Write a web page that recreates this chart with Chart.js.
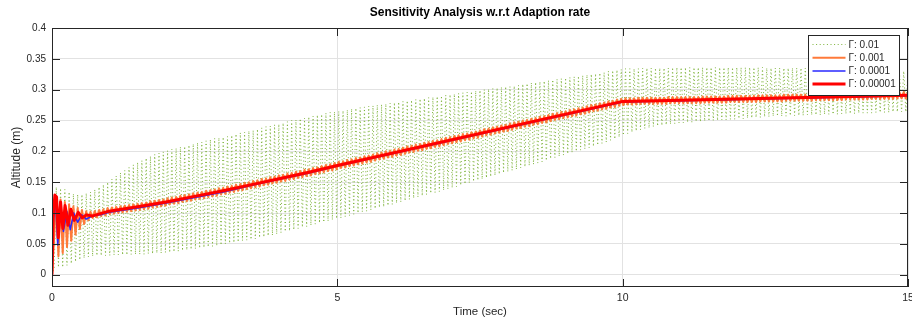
<!DOCTYPE html>
<html><head><meta charset="utf-8">
<script src="https://cdn.jsdelivr.net/npm/chart.js@4.4.1/dist/chart.umd.min.js"></script>
<style>html,body{margin:0;padding:0;background:#fff;overflow:hidden}#wrap{width:912px;height:320px;position:relative}</style>
</head><body><div id="wrap"><canvas id="c" width="912" height="320"></canvas></div>
<script>
const titleText = 'Sensitivity Analysis w.r.t Adaption rate';
const xTitle = 'Time (sec)';
const yTitle = 'Altitude (m)';
const xTicks = [0, 5, 10, 15];
const yTicks = [0, 0.05, 0.1, 0.15, 0.2, 0.25, 0.3, 0.35, 0.4];
const seriesLabels = ['\u0393: 0.01', '\u0393: 0.001', '\u0393: 0.0001', '\u0393: 0.00001'];

// Oscillating responses: the crest and trough values,
// one crest and one trough per sample interval (sampleStep seconds).
const sampleStep = 0.075;
const gamma_0_01_crest = [
0, 0.142, 0.140, 0.138, 0.134, 0.131, 0.130, 0.130, 0.132, 0.134,
0.138, 0.142, 0.146, 0.150, 0.155, 0.160, 0.165, 0.169, 0.174, 0.178,
0.182, 0.185, 0.189, 0.192, 0.195, 0.197, 0.199, 0.201, 0.203, 0.205,
0.207, 0.208, 0.210, 0.212, 0.214, 0.215, 0.217, 0.219, 0.221, 0.222,
0.223, 0.224, 0.226, 0.228, 0.230, 0.231, 0.233, 0.234, 0.236, 0.238,
0.240, 0.241, 0.243, 0.244, 0.246, 0.248, 0.250, 0.251, 0.253, 0.254,
0.256, 0.257, 0.259, 0.260, 0.262, 0.263, 0.264, 0.265, 0.266, 0.267,
0.269, 0.270, 0.271, 0.272, 0.273, 0.274, 0.275, 0.276, 0.277, 0.278,
0.279, 0.280, 0.281, 0.282, 0.283, 0.284, 0.285, 0.286, 0.287, 0.288,
0.289, 0.290, 0.291, 0.292, 0.293, 0.294, 0.295, 0.296, 0.297, 0.298,
0.299, 0.300, 0.301, 0.302, 0.303, 0.304, 0.305, 0.305, 0.306, 0.307,
0.309, 0.310, 0.311, 0.312, 0.313, 0.314, 0.315, 0.316, 0.317, 0.318,
0.319, 0.320, 0.321, 0.322, 0.323, 0.324, 0.325, 0.326, 0.327, 0.328,
0.330, 0.331, 0.332, 0.333, 0.334, 0.334, 0.334, 0.334, 0.335, 0.335,
0.335, 0.335, 0.335, 0.335, 0.335, 0.336, 0.336, 0.336, 0.336, 0.336,
0.336, 0.336, 0.336, 0.336, 0.336, 0.336, 0.336, 0.336, 0.336, 0.336,
0.336, 0.336, 0.336, 0.336, 0.336, 0.336, 0.336, 0.335, 0.335, 0.335,
0.335, 0.335, 0.335, 0.335, 0.335, 0.335, 0.335, 0.334, 0.334, 0.334,
0.334, 0.334, 0.334, 0.334, 0.334, 0.333, 0.333, 0.333, 0.333, 0.333,
0.332, 0.332, 0.332, 0.332, 0.331, 0.331, 0.331, 0.331, 0.330, 0.330,
0.330];
const gamma_0_01_trough = [
0.010, 0.012, 0.012, 0.015, 0.018, 0.021, 0.024, 0.027, 0.029, 0.030,
0.031, 0.031, 0.031, 0.031, 0.032, 0.032, 0.032, 0.032, 0.033, 0.033,
0.033, 0.033, 0.034, 0.034, 0.035, 0.035, 0.036, 0.036, 0.037, 0.038,
0.039, 0.040, 0.041, 0.042, 0.043, 0.044, 0.045, 0.046, 0.047, 0.048,
0.050, 0.051, 0.052, 0.053, 0.055, 0.056, 0.057, 0.058, 0.060, 0.061,
0.063, 0.064, 0.066, 0.068, 0.070, 0.071, 0.073, 0.075, 0.077, 0.078,
0.080, 0.082, 0.084, 0.085, 0.087, 0.089, 0.091, 0.092, 0.094, 0.096,
0.098, 0.100, 0.102, 0.103, 0.105, 0.107, 0.109, 0.110, 0.112, 0.114,
0.116, 0.118, 0.120, 0.122, 0.124, 0.126, 0.128, 0.130, 0.132, 0.133,
0.135, 0.137, 0.139, 0.141, 0.143, 0.145, 0.147, 0.149, 0.151, 0.153,
0.155, 0.157, 0.159, 0.161, 0.163, 0.165, 0.167, 0.169, 0.171, 0.173,
0.175, 0.177, 0.179, 0.181, 0.183, 0.185, 0.188, 0.190, 0.192, 0.194,
0.196, 0.198, 0.200, 0.202, 0.204, 0.206, 0.208, 0.210, 0.213, 0.215,
0.218, 0.220, 0.223, 0.226, 0.229, 0.231, 0.233, 0.235, 0.237, 0.238,
0.240, 0.241, 0.242, 0.243, 0.244, 0.245, 0.246, 0.246, 0.247, 0.247,
0.248, 0.248, 0.249, 0.249, 0.250, 0.250, 0.251, 0.251, 0.252, 0.252,
0.253, 0.253, 0.254, 0.254, 0.255, 0.255, 0.256, 0.256, 0.257, 0.257,
0.257, 0.257, 0.258, 0.258, 0.258, 0.258, 0.259, 0.259, 0.259, 0.259,
0.260, 0.260, 0.260, 0.260, 0.261, 0.261, 0.261, 0.261, 0.262, 0.262,
0.262, 0.262, 0.263, 0.263, 0.263, 0.263, 0.264, 0.264, 0.264, 0.264,
0.265];

const gamma_0_001_crest = [
0, 0.127, 0.122, 0.118, 0.114, 0.111, 0.108, 0.105, 0.103, 0.102,
0.103, 0.105, 0.106, 0.108, 0.109, 0.110, 0.111, 0.112, 0.113, 0.114,
0.115, 0.116, 0.117, 0.119, 0.120, 0.121, 0.122, 0.124, 0.125, 0.126,
0.128, 0.129, 0.130, 0.132, 0.133, 0.134, 0.136, 0.137, 0.138, 0.140,
0.141, 0.143, 0.144, 0.146, 0.147, 0.149, 0.150, 0.152, 0.153, 0.155,
0.156, 0.158, 0.159, 0.161, 0.162, 0.164, 0.165, 0.167, 0.168, 0.170,
0.171, 0.173, 0.174, 0.176, 0.178, 0.179, 0.181, 0.183, 0.184, 0.186,
0.187, 0.189, 0.190, 0.192, 0.193, 0.195, 0.197, 0.198, 0.200, 0.201,
0.203, 0.204, 0.206, 0.208, 0.209, 0.211, 0.212, 0.214, 0.215, 0.217,
0.218, 0.220, 0.222, 0.223, 0.225, 0.226, 0.228, 0.229, 0.231, 0.232,
0.234, 0.236, 0.237, 0.239, 0.240, 0.242, 0.243, 0.245, 0.247, 0.248,
0.250, 0.251, 0.253, 0.254, 0.256, 0.257, 0.259, 0.261, 0.262, 0.264,
0.265, 0.267, 0.268, 0.270, 0.271, 0.273, 0.275, 0.276, 0.278, 0.279,
0.281, 0.282, 0.284, 0.285, 0.286, 0.286, 0.286, 0.287, 0.287, 0.287,
0.287, 0.287, 0.287, 0.287, 0.288, 0.288, 0.288, 0.288, 0.288, 0.288,
0.288, 0.288, 0.289, 0.289, 0.289, 0.289, 0.289, 0.289, 0.290, 0.290,
0.290, 0.290, 0.290, 0.290, 0.290, 0.291, 0.291, 0.291, 0.291, 0.291,
0.291, 0.292, 0.292, 0.292, 0.292, 0.292, 0.292, 0.292, 0.293, 0.293,
0.293, 0.293, 0.293, 0.293, 0.293, 0.294, 0.294, 0.294, 0.294, 0.294,
0.294, 0.295, 0.295, 0.295, 0.295, 0.295, 0.295, 0.296, 0.296, 0.296,
0.296];
const gamma_0_001_trough = [
0.060, 0.030, 0.035, 0.045, 0.055, 0.065, 0.074, 0.082, 0.088, 0.092,
0.093, 0.095, 0.096, 0.098, 0.099, 0.100, 0.101, 0.102, 0.103, 0.104,
0.105, 0.106, 0.107, 0.109, 0.110, 0.111, 0.112, 0.114, 0.115, 0.116,
0.118, 0.119, 0.120, 0.122, 0.123, 0.124, 0.126, 0.127, 0.128, 0.130,
0.131, 0.133, 0.134, 0.136, 0.137, 0.139, 0.140, 0.142, 0.143, 0.145,
0.146, 0.148, 0.149, 0.151, 0.152, 0.154, 0.155, 0.157, 0.158, 0.160,
0.161, 0.163, 0.164, 0.166, 0.168, 0.169, 0.171, 0.173, 0.174, 0.176,
0.177, 0.179, 0.180, 0.182, 0.183, 0.185, 0.187, 0.188, 0.190, 0.191,
0.193, 0.194, 0.196, 0.198, 0.199, 0.201, 0.202, 0.204, 0.205, 0.207,
0.208, 0.210, 0.212, 0.213, 0.215, 0.216, 0.218, 0.219, 0.221, 0.222,
0.224, 0.226, 0.227, 0.229, 0.230, 0.232, 0.233, 0.235, 0.237, 0.238,
0.240, 0.241, 0.243, 0.244, 0.246, 0.247, 0.249, 0.251, 0.252, 0.254,
0.255, 0.257, 0.258, 0.260, 0.261, 0.263, 0.265, 0.266, 0.268, 0.269,
0.271, 0.272, 0.274, 0.275, 0.276, 0.276, 0.276, 0.277, 0.277, 0.277,
0.277, 0.277, 0.277, 0.277, 0.278, 0.278, 0.278, 0.278, 0.278, 0.278,
0.278, 0.278, 0.279, 0.279, 0.279, 0.279, 0.279, 0.279, 0.280, 0.280,
0.280, 0.280, 0.280, 0.280, 0.280, 0.281, 0.281, 0.281, 0.281, 0.281,
0.281, 0.282, 0.282, 0.282, 0.282, 0.282, 0.282, 0.282, 0.283, 0.283,
0.283, 0.283, 0.283, 0.283, 0.283, 0.284, 0.284, 0.284, 0.284, 0.284,
0.284, 0.285, 0.285, 0.285, 0.285, 0.285, 0.285, 0.286, 0.286, 0.286,
0.286];

const gamma_0_0001_t = [0, 0.03, 0.06, 0.1, 0.15, 0.2, 0.26, 0.32, 0.38, 0.45, 0.52, 0.6, 0.7, 0.85, 1, 1.5, 2, 2.5, 3, 3.5, 4, 4.5, 5, 10, 15];
const gamma_0_0001_y = [0, 0.105, 0.125, 0.048, 0.11, 0.07, 0.103, 0.073, 0.1, 0.085, 0.097, 0.09, 0.095, 0.097, 0.101, 0.108, 0.116, 0.125, 0.134, 0.145, 0.155, 0.165, 0.176, 0.280, 0.290];

const gamma_0_00001_t = [0, 0.02, 0.05, 0.08, 0.11, 0.15, 0.19, 0.23, 0.28, 0.33, 0.39, 0.46, 0.53, 0.6, 0.7, 0.85, 1, 1.5, 2, 2.5, 3, 3.5, 4, 4.5, 5, 10, 15];
const gamma_0_00001_y = [0, 0.09, 0.129, 0.126, 0.06, 0.118, 0.075, 0.112, 0.08, 0.106, 0.088, 0.101, 0.092, 0.097, 0.095, 0.099, 0.103, 0.110, 0.118, 0.127, 0.136, 0.146, 0.156, 0.166, 0.177, 0.281, 0.291];

// crest at the start of each interval, trough half an interval later
const crestTrough = (crest, trough) => {
  const pts = [];
  crest.forEach((c, k) => {
    const t = k * sampleStep;
    pts.push({x: +t.toFixed(4), y: c});
    if (k < crest.length - 1) pts.push({x: +(t + sampleStep / 2).toFixed(4), y: trough[k]});
  });
  return pts;
};
const paired = (ts, ys) => ts.map((t, i) => ({x: t, y: ys[i]}));

const axisColor = '#262626';
const gridColor = '#e2e2e2';
const fontFamily = '"Liberation Sans", Arial, Helvetica, sans-serif';

const matlabAxes = {
  id: 'matlabAxes',
  afterDatasetsDraw(chart) {
    const {ctx, chartArea: a, scales: {x, y}} = chart;
    ctx.save();
    ctx.strokeStyle = axisColor;
    ctx.lineWidth = 1;
    const tl = 8;
    ctx.beginPath();
    xTicks.forEach(v => {
      const px = Math.round(x.getPixelForValue(v)) + 0.5;
      ctx.moveTo(px, a.bottom); ctx.lineTo(px, a.bottom - tl);
      ctx.moveTo(px, a.top); ctx.lineTo(px, a.top + tl);
    });
    yTicks.forEach(v => {
      const py = Math.round(y.getPixelForValue(v)) + 0.5;
      ctx.moveTo(a.left, py); ctx.lineTo(a.left + tl, py);
      ctx.moveTo(a.right, py); ctx.lineTo(a.right - tl, py);
    });
    ctx.stroke();
    ctx.strokeRect(Math.round(a.left) + 0.5, Math.round(a.top) + 0.5, Math.round(a.right - a.left) - 1, Math.round(a.bottom - a.top) - 1);

    // legend box (top-right inside the axes)
    const bx = 808.5, by = 35.5, bw = 91, bh = 60;
    ctx.fillStyle = '#ffffff';
    ctx.fillRect(bx, by, bw, bh);
    ctx.strokeStyle = axisColor;
    ctx.strokeRect(bx, by, bw, bh);
    ctx.font = '10px ' + fontFamily;
    ctx.textBaseline = 'middle';
    ctx.textAlign = 'left';
    const ds = chart.data.datasets;
    seriesLabels.forEach((lab, i) => {
      const d = ds[i];
      const ry = by + 9 + i * 13.2;
      ctx.save();
      ctx.strokeStyle = d.borderColor;
      ctx.lineWidth = Math.min(d.borderWidth, 3);
      ctx.setLineDash(d.borderDash || []);
      ctx.beginPath();
      ctx.moveTo(bx + 4, ry); ctx.lineTo(bx + 37, ry);
      ctx.stroke();
      ctx.restore();
      ctx.fillStyle = axisColor;
      ctx.fillText(lab, bx + 40, ry + 0.5);
    });
    ctx.restore();
  }
};

new Chart(document.getElementById('c'), {
  type: 'line',
  data: {
    datasets: [
      {label: seriesLabels[0], data: crestTrough(gamma_0_01_crest, gamma_0_01_trough), borderColor: '#7DB33A', borderWidth: 1, borderDash: [1, 2.6], order: 4},
      {label: seriesLabels[1], data: crestTrough(gamma_0_001_crest, gamma_0_001_trough), borderColor: '#FF7A3A', borderWidth: 2, order: 3},
      {label: seriesLabels[2], data: paired(gamma_0_0001_t, gamma_0_0001_y), borderColor: '#2828FF', borderWidth: 1.5, order: 2},
      {label: seriesLabels[3], data: paired(gamma_0_00001_t, gamma_0_00001_y), borderColor: '#FF0000', borderWidth: 3, order: 1}
    ]
  },
  options: {
    responsive: false,
    animation: false,
    devicePixelRatio: 1,
    layout: {padding: {top: 0, right: 4, bottom: 0, left: 0}},
    elements: {point: {radius: 0}, line: {tension: 0, borderJoinStyle: 'round'}},
    plugins: {
      legend: {display: false},
      tooltip: {enabled: false},
      title: {display: true, fullSize: false, text: titleText, color: '#000', font: {family: fontFamily, size: 12, weight: 'bold', lineHeight: 1.2}, padding: {top: 5, bottom: 8.6}}
    },
    scales: {
      x: {
        type: 'linear', min: 0, max: 15,
        afterBuildTicks: s => { s.ticks = xTicks.map(v => ({value: v})); },
        afterFit: s => { s.height = 33; s.paddingLeft = 0; s.paddingRight = 0; },
        grid: {color: gridColor, drawTicks: false},
        border: {display: false},
        ticks: {color: axisColor, padding: 5, maxRotation: 0, autoSkip: false, font: {family: fontFamily, size: 10.5}},
        title: {display: true, text: xTitle, color: axisColor, padding: {top: 0, bottom: 1.5}, font: {family: fontFamily, size: 11.5, lineHeight: 1.2}}
      },
      y: {
        type: 'linear', min: -0.02, max: 0.4,
        afterBuildTicks: s => { s.ticks = yTicks.map(v => ({value: v})); },
        afterFit: s => { s.width = 52; },
        grid: {color: gridColor, drawTicks: false},
        border: {display: false},
        ticks: {color: axisColor, padding: 6, autoSkip: false, callback: v => String(v), font: {family: fontFamily, size: 10}},
        title: {display: true, text: yTitle, color: axisColor, padding: {top: 9, bottom: 0}, font: {family: fontFamily, size: 12, lineHeight: 1.2}}
      }
    }
  },
  plugins: [matlabAxes]
});
</script></body></html>
